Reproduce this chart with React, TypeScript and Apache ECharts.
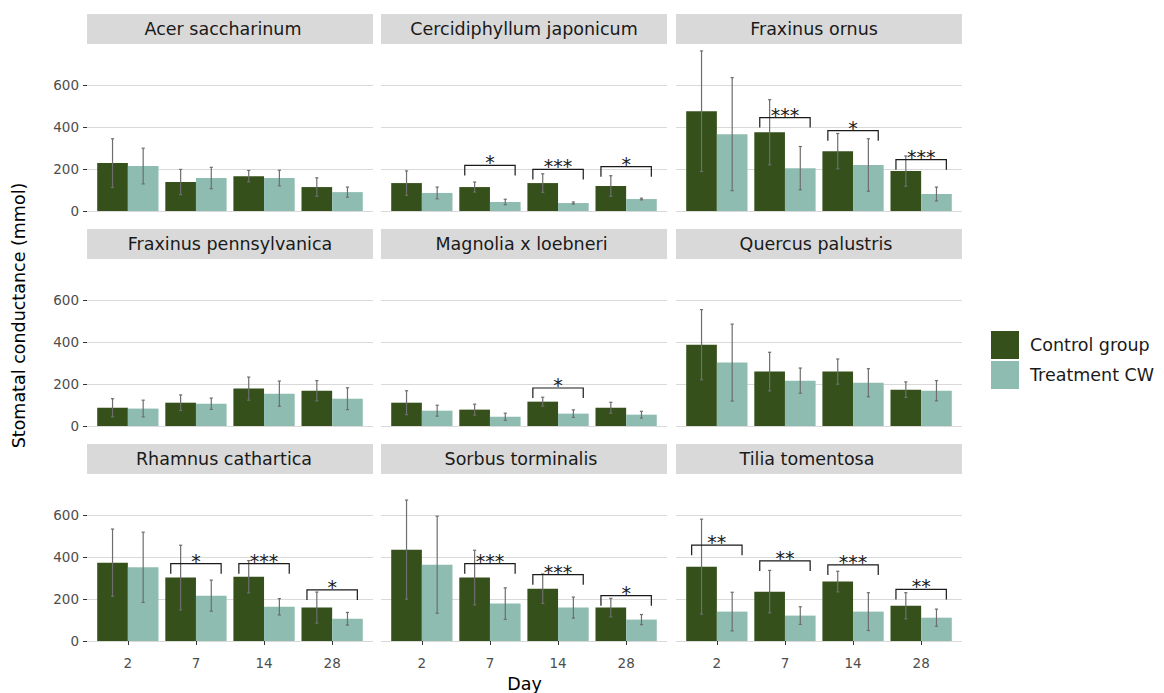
import React, { useEffect, useRef } from "react";
import * as echarts from "echarts";

// ---------- data ----------
const days = ["2", "7", "14", "28"];
const species = [
  "Acer saccharinum",
  "Cercidiphyllum japonicum",
  "Fraxinus ornus",
  "Fraxinus pennsylvanica",
  "Magnolia x loebneri",
  "Quercus palustris",
  "Rhamnus cathartica",
  "Sorbus torminalis",
  "Tilia tomentosa",
];
const controlMean = [
  [228, 138, 166, 114],
  [133, 114, 133, 119],
  [475, 375, 285, 190],
  [87, 111, 178, 168],
  [111, 78, 116, 87],
  [387, 259, 259, 173],
  [373, 302, 306, 159],
  [435, 302, 249, 159],
  [354, 235, 283, 168],
];
const controlSd = [
  [116, 60, 27, 44],
  [58, 24, 44, 49],
  [287, 155, 84, 72],
  [43, 37, 55, 48],
  [57, 26, 21, 26],
  [167, 92, 60, 37],
  [160, 154, 77, 74],
  [236, 130, 70, 44],
  [226, 101, 49, 62],
];
const treatMean = [
  [214, 157, 157, 90],
  [86, 43, 38, 57],
  [366, 204, 219, 81],
  [83, 106, 154, 130],
  [73, 44, 59, 54],
  [302, 216, 206, 168],
  [351, 216, 163, 106],
  [363, 178, 159, 102],
  [140, 121, 140, 111],
];
const treatSd = [
  [85, 51, 37, 24],
  [28, 13, 5, 4],
  [269, 103, 125, 33],
  [40, 27, 60, 52],
  [26, 17, 18, 16],
  [183, 60, 67, 48],
  [167, 74, 39, 30],
  [231, 75, 50, 24],
  [92, 42, 90, 41],
];
// significance brackets
const sigPanel = [1, 1, 1, 2, 2, 2, 4, 6, 6, 6, 7, 7, 7, 8, 8, 8, 8];
const sigDay = [1, 2, 3, 1, 2, 3, 2, 1, 2, 3, 1, 2, 3, 0, 1, 2, 3];
const sigY = [217, 198, 211, 445, 383, 245, 181, 368, 368, 243, 368, 316, 216, 456, 381, 362, 246];
const sigLabel = ["*", "***", "*", "***", "*", "***", "*", "*", "***", "*", "***", "***", "*", "**", "**", "***", "**"];
const yTicks = [0, 200, 400, 600];
const xTicks = [1, 2, 3, 4];

// ---------- layout / style ----------
const COL_LEFT = [87, 381, 676];
const ROW_TOP = [44, 259, 474];
const PANEL_W = 286;
const PANEL_H = 175;
const STRIP_H = 30;
const STRIP_DX = [-7, 0, -5, 0, -2.5, -3, -6, -3, -12];
const Y_MIN = -38;
const Y_MAX = 795;
const DODGE = 0.225;
const BR_HALF = 0.37;
const BR_TIP = 48;
const FONT = "DejaVu Sans";
const C_CONTROL = "#35501a";
const C_TREAT = "#8fbcb1";

export default function App() {
  const ref = useRef<HTMLDivElement>(null);
  useEffect(() => {
    if (!ref.current) return;
    const chart = echarts.init(ref.current, undefined, { renderer: "svg" });

    const grids: any[] = [];
    const xAxes: any[] = [];
    const yAxes: any[] = [];
    const series: any[] = [];
    const graphics: any[] = [];

    for (let i = 0; i < species.length; i++) {
      const col = i % 3;
      const row = Math.floor(i / 3);
      const left = COL_LEFT[col];
      const top = ROW_TOP[row];
      grids.push({
        left,
        top,
        width: PANEL_W,
        height: PANEL_H,
        containLabel: false,
        outerBoundsMode: "none",
      });
      const bottomRow = row === 2;
      const leftCol = col === 0;
      xAxes.push({
        type: "value",
        gridIndex: i,
        min: 0.4,
        max: 4.6,
        axisLine: { show: false },
        splitLine: { show: false },
        axisTick: {
          show: bottomRow,
          customValues: xTicks,
          length: 4,
          lineStyle: { color: "#333333", width: 1 },
        },
        axisLabel: {
          show: bottomRow,
          customValues: xTicks,
          formatter: (v: number) => days[Math.round(v) - 1],
          fontFamily: FONT,
          fontSize: 13.5,
          color: "#4d4d4d",
          margin: 7,
        },
      });
      yAxes.push({
        type: "value",
        gridIndex: i,
        min: Y_MIN,
        max: Y_MAX,
        axisLine: { show: false },
        axisTick: {
          show: leftCol,
          customValues: yTicks,
          length: 4,
          lineStyle: { color: "#333333", width: 1 },
        },
        axisLabel: {
          show: leftCol,
          customValues: yTicks,
          fontFamily: FONT,
          fontSize: 13.5,
          color: "#4d4d4d",
          margin: 8,
        },
        splitLine: { show: true, lineStyle: { color: "#d9d9d9", width: 1.2 } },
      });

      series.push({
        type: "bar",
        name: "Control group",
        xAxisIndex: i,
        yAxisIndex: i,
        barWidth: "45%",
        barGap: "0%",
        itemStyle: { color: C_CONTROL },
        data: controlMean[i].map((v, k) => [xTicks[k], v]),
      });
      series.push({
        type: "bar",
        name: "Treatment CW",
        xAxisIndex: i,
        yAxisIndex: i,
        barWidth: "45%",
        barGap: "0%",
        itemStyle: { color: C_TREAT },
        data: treatMean[i].map((v, k) => [xTicks[k], v]),
      });

      const errData: number[][] = [];
      for (let k = 0; k < days.length; k++) {
        errData.push([xTicks[k], controlMean[i][k], controlSd[i][k], -1]);
        errData.push([xTicks[k], treatMean[i][k], treatSd[i][k], 1]);
      }
      series.push({
        type: "custom",
        name: "err" + i,
        xAxisIndex: i,
        yAxisIndex: i,
        z: 5,
        encode: { x: 0, y: 1 },
        data: errData,
        renderItem: (_p: any, api: any) => {
          const x = api.value(0) + api.value(3) * DODGE;
          const m = api.value(1);
          const s = api.value(2);
          const t = api.coord([x, m + s]);
          const b = api.coord([x, m - s]);
          const c = 1.6;
          const style = { stroke: "#6e6e6e", lineWidth: 1.2 };
          return {
            type: "group",
            children: [
              { type: "line", shape: { x1: t[0], y1: t[1], x2: b[0], y2: b[1] }, style },
              { type: "line", shape: { x1: t[0] - c, y1: t[1], x2: t[0] + c, y2: t[1] }, style },
              { type: "line", shape: { x1: b[0] - c, y1: b[1], x2: b[0] + c, y2: b[1] }, style },
            ],
          };
        },
      });

      const idx: number[] = [];
      sigPanel.forEach((p, j) => {
        if (p === i) idx.push(j);
      });
      if (idx.length) {
        series.push({
          type: "custom",
          name: "sig" + i,
          xAxisIndex: i,
          yAxisIndex: i,
          z: 6,
          encode: { x: 0, y: 1 },
          data: idx.map((j) => [xTicks[sigDay[j]], sigY[j]]),
          renderItem: (params: any, api: any) => {
            const x = api.value(0);
            const y = api.value(1);
            const label = sigLabel[idx[params.dataIndex]];
            const l = api.coord([x - BR_HALF, y]);
            const r = api.coord([x + BR_HALF, y]);
            const lb = api.coord([x - BR_HALF, y - BR_TIP]);
            const rb = api.coord([x + BR_HALF, y - BR_TIP]);
            return {
              type: "group",
              children: [
                {
                  type: "polyline",
                  shape: { points: [lb, l, r, rb] },
                  style: { stroke: "#1a1a1a", lineWidth: 1.2, fill: "none" },
                },
                {
                  type: "text",
                  x: (l[0] + r[0]) / 2,
                  y: l[1] - 3,
                  style: {
                    text: label,
                    align: "center",
                    verticalAlign: "middle",
                    fontFamily: FONT,
                    fontSize: 19,
                    fill: "#1a1a1a",
                  },
                },
              ],
            };
          },
        });
      }

      // strip
      graphics.push({
        type: "rect",
        shape: { x: left, y: top - STRIP_H, width: PANEL_W, height: STRIP_H },
        style: { fill: "#d9d9d9" },
        silent: true,
      });
      graphics.push({
        type: "text",
        x: left + PANEL_W / 2 + STRIP_DX[i],
        y: top - STRIP_H / 2,
        style: {
          text: species[i],
          align: "center",
          verticalAlign: "middle",
          fontFamily: FONT,
          fontSize: 17.5,
          fill: "#1a1a1a",
        },
        silent: true,
      });
    }

    graphics.push({
      type: "text",
      x: 19,
      y: 315.5,
      rotation: Math.PI / 2,
      style: {
        text: "Stomatal conductance (mmol)",
        align: "center",
        verticalAlign: "middle",
        fontFamily: FONT,
        fontSize: 17.5,
        fill: "#000000",
      },
    });
    graphics.push({
      type: "text",
      x: 524.5,
      y: 684,
      style: {
        text: "Day",
        align: "center",
        verticalAlign: "middle",
        fontFamily: FONT,
        fontSize: 17.5,
        fill: "#000000",
      },
    });

    chart.setOption({
      animation: false,
      backgroundColor: "#ffffff",
      textStyle: { fontFamily: FONT },
      grid: grids,
      xAxis: xAxes,
      yAxis: yAxes,
      series,
      graphic: graphics,
      legend: {
        data: ["Control group", "Treatment CW"],
        orient: "vertical",
        left: 991,
        top: 331,
        padding: 0,
        itemWidth: 28,
        itemHeight: 28,
        itemGap: 2,
        icon: "rect",
        selectedMode: false,
        textStyle: {
          fontFamily: FONT,
          fontSize: 17.5,
          color: "#1a1a1a",
          padding: [0, 0, 0, 6],
        },
      },
    });
    return () => chart.dispose();
  }, []);
  return (
    <div
      ref={ref}
      style={{ position: "fixed", left: 0, top: 0, width: 1164, height: 693 }}
    />
  );
}
